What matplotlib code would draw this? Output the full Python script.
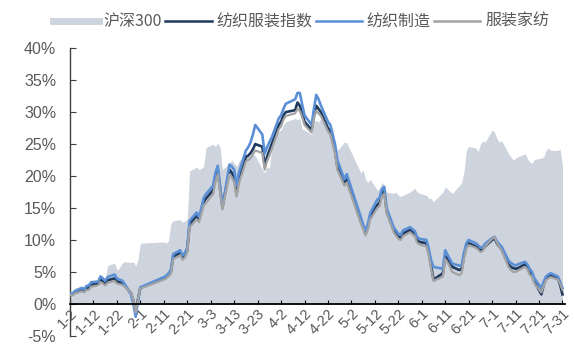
import matplotlib
matplotlib.use("Agg")
import matplotlib.pyplot as plt
from matplotlib.lines import Line2D
import pandas as pd

plt.rcParams['font.family'] = ['Noto Sans CJK SC', 'DejaVu Sans']

# trading days (2019)
days = ["01-02","01-03","01-04","01-07","01-08","01-09","01-10","01-11","01-14","01-15","01-16","01-17","01-18","01-21","01-22","01-23","01-24","01-25","01-28","01-29","01-30","01-31","02-01",
        "02-11","02-12","02-13","02-14","02-15","02-18","02-19","02-20","02-21","02-22","02-25","02-26","02-27","02-28","03-01",
        "03-04","03-05","03-06","03-07","03-08","03-11","03-12","03-13","03-14","03-15","03-18","03-19","03-20","03-21","03-22","03-25","03-26","03-27","03-28","03-29",
        "04-01","04-02","04-03","04-04","04-08","04-09","04-10","04-11","04-12","04-15","04-16","04-17","04-18","04-19","04-22","04-23","04-24","04-25","04-26","04-29","04-30",
        "05-06","05-07","05-08","05-09","05-10","05-13","05-14","05-15","05-16","05-17","05-20","05-21","05-22","05-23","05-24","05-27","05-28","05-29","05-30","05-31",
        "06-03","06-04","06-05","06-06","06-10","06-11","06-12","06-13","06-14","06-17","06-18","06-19","06-20","06-21","06-24","06-25","06-26","06-27","06-28",
        "07-01","07-02","07-03","07-04","07-05","07-08","07-09","07-10","07-11","07-12","07-15","07-16","07-17","07-18","07-19","07-22","07-23","07-24","07-25","07-26","07-29","07-30","07-31"]

# 沪深300 (%)
hs300 = [1.2,1.0,2.5,2.8,2.7,3.0,2.7,3.2,2.6,4.0,4.2,3.7,6.0,6.4,5.3,5.6,6.2,6.6,6.5,6.6,5.9,7.0,9.5,
         9.7,9.5,9.9,12.6,13.0,13.2,12.8,13.0,13.3,20.8,21.4,21.0,21.2,21.5,24.5,
         25.0,24.6,25.2,24.5,21.0,22.0,22.5,22.0,21.5,22.3,23.5,23.2,23.0,23.4,23.2,21.0,20.5,21.5,21.2,24.5,
         27.0,27.2,28.0,28.5,29.0,28.8,29.0,27.3,27.2,26.5,28.5,28.7,28.4,29.0,27.5,27.2,27.5,25.0,24.0,25.3,25.2,
         20.5,21.0,19.5,19.0,19.5,17.8,18.0,19.0,18.6,17.5,17.3,17.5,17.0,16.8,17.0,17.5,17.8,18.1,17.5,17.3,
         17.0,16.5,16.5,16.0,17.5,18.3,18.0,17.6,17.3,18.5,19.0,20.7,24.0,24.6,24.4,23.8,25.0,25.5,25.3,
         27.2,26.9,25.9,25.3,25.5,23.5,23.0,22.5,22.8,23.0,23.5,22.8,22.2,22.0,22.6,22.8,23.0,24.0,24.4,24.0,24.0,24.2,21.5]

# 纺织服装指数 (%)
fzfz = [1.5,1.4,1.8,2.2,2.0,2.4,2.5,3.0,3.2,3.8,3.6,3.2,3.7,4.0,3.5,3.4,3.3,3.0,1.7,0.5,-1.0,0.8,2.5,
        4.0,4.2,4.6,5.0,7.4,8.0,7.2,7.6,8.4,12.5,13.8,13.2,14.5,16.0,16.5,
        17.8,19.8,21.0,18.0,15.2,21.0,20.5,19.8,17.3,19.5,23.0,23.2,23.6,24.2,25.0,24.6,21.5,23.0,24.0,25.0,
        28.0,28.5,29.5,30.0,30.3,31.5,31.0,29.8,28.5,27.2,29.5,31.0,30.5,30.0,27.5,27.0,25.5,24.0,21.5,18.9,19.5,
        13.0,12.0,11.0,12.0,13.6,15.5,15.8,17.5,17.8,14.5,11.6,11.0,10.5,10.3,11.0,11.6,11.3,11.0,10.0,9.7,
        9.5,8.0,6.0,3.8,4.8,7.5,7.0,6.4,5.8,5.3,5.5,7.5,9.0,9.5,9.0,8.8,8.4,8.5,9.0,
        10.0,10.3,9.5,9.0,8.6,6.2,5.8,5.6,5.5,5.6,6.2,5.8,5.0,4.6,3.5,1.5,3.0,4.0,4.3,4.5,4.0,3.0,1.5]

# 纺织制造 (%)
fzzz = [1.6,1.6,2.0,2.5,2.3,2.8,2.9,3.4,3.5,4.3,4.0,3.6,4.2,4.6,4.0,3.8,3.7,3.3,1.5,0.0,-2.0,0.5,2.6,
        4.2,4.4,4.8,5.3,7.8,8.4,7.6,8.0,8.8,13.0,14.3,13.6,15.0,16.6,17.2,
        18.5,20.5,21.6,18.5,15.0,21.8,21.5,21.0,18.5,20.5,24.0,24.5,25.3,26.5,28.0,26.5,23.5,24.5,25.3,26.0,
        29.0,29.5,30.5,31.3,32.0,33.0,33.0,31.2,29.5,28.0,30.5,32.7,32.0,31.0,28.5,28.0,26.5,25.0,22.5,19.5,20.3,
        13.6,12.4,11.5,12.5,14.2,16.3,16.6,18.0,18.3,15.0,12.0,11.5,11.0,10.8,11.5,12.0,11.7,11.4,10.5,10.2,
        10.0,8.6,6.8,5.8,5.5,8.4,7.7,7.0,6.3,6.0,6.0,8.0,9.5,10.0,9.5,9.2,8.8,8.9,9.4,
        10.3,10.5,9.8,9.4,9.0,6.8,6.4,6.2,6.0,6.2,6.6,6.2,5.5,5.0,4.0,2.5,3.5,4.3,4.6,4.8,4.3,3.5,2.5]

# 服装家纺 (%)
fzjf = [1.4,1.3,1.6,2.0,1.8,2.2,2.2,2.7,2.9,3.4,3.2,2.9,3.3,3.6,3.2,3.1,3.0,2.8,1.8,0.7,-1.3,0.9,2.4,
        3.8,4.0,4.3,4.7,7.0,7.6,6.9,7.3,8.0,12.0,13.2,12.8,14.0,15.4,15.8,
        17.2,19.0,20.3,17.4,14.8,20.2,19.8,19.0,16.8,18.8,22.3,22.5,22.8,23.4,24.0,23.6,21.0,22.3,23.2,24.2,
        27.3,27.8,28.8,29.4,29.8,30.5,30.2,29.2,28.0,26.8,29.0,30.2,29.8,29.4,27.0,26.5,25.0,23.5,21.0,18.5,19.0,
        12.6,11.7,10.7,11.6,13.2,15.0,15.3,16.8,17.2,14.2,11.2,10.7,10.2,10.0,10.6,11.2,10.9,10.6,9.6,9.3,
        9.0,7.5,5.5,3.6,4.3,7.0,6.5,5.8,5.0,4.5,4.8,7.0,8.6,9.2,8.8,8.5,8.1,8.3,9.0,
        10.2,10.5,9.6,9.0,8.4,5.8,5.3,5.0,5.0,5.2,5.8,5.4,4.6,4.2,3.2,1.8,2.8,3.7,4.0,4.2,3.8,3.2,2.2]

tick_days = ["01-02","01-12","01-22","02-01","02-11","02-21","03-03","03-13","03-23","04-02","04-12",
             "04-22","05-02","05-12","05-22","06-01","06-11","06-21","07-01","07-11","07-21","07-31"]
tick_labels = ["1-2","1-12","1-22","2-1","2-11","2-21","3-3","3-13","3-23","4-2","4-12",
               "4-22","5-2","5-12","5-22","6-1","6-11","6-21","7-1","7-11","7-21","7-31"]

x = pd.to_datetime(["2019-" + d for d in days])
xt = pd.to_datetime(["2019-" + d for d in tick_days])

c_area = '#CED4DD'
c_dark = '#1F3A5F'
c_blue = '#5B8FD6'
c_gray = '#A3A3A3'
c_text = '#595959'

fig = plt.figure(figsize=(5.74, 3.54), dpi=100)
ax = fig.add_axes([0.122, 0.051, 0.862, 0.813])

ax.fill_between(x, 0, hs300, color=c_area, lw=0, zorder=1)
ax.plot(x, fzfz, color=c_dark, lw=1.9, zorder=3)
ax.plot(x, fzzz, color=c_blue, lw=1.9, zorder=4)
ax.plot(x, fzjf, color=c_gray, lw=1.6, zorder=5)

for s in ['top', 'right']:
    ax.spines[s].set_visible(False)
ax.spines['bottom'].set_position(('data', 0))
ax.spines['bottom'].set_color('#000000')
ax.spines['bottom'].set_linewidth(1.3)
ax.spines['bottom'].set_zorder(6)
ax.spines['left'].set_color('#404040')
ax.spines['left'].set_linewidth(1.0)
ax.tick_params(axis='y', direction='in', length=4, color='#404040', pad=10)
ax.tick_params(axis='x', direction='in', length=3, color='#000000', pad=2)

ax.set_ylim(-5, 40)
ax.set_yticks(range(-5, 41, 5))
ax.set_yticklabels([f"{v}%" for v in range(-5, 41, 5)], fontsize=11.5, color=c_text,
                   family=['Liberation Sans', 'DejaVu Sans'])
ax.set_xlim(xt[0], pd.Timestamp("2019-08-01"))
ax.set_xticks(xt)
ax.set_xticklabels(tick_labels, fontsize=10.5, color=c_text,
                   family=['Liberation Sans', 'DejaVu Sans'])
for t in ax.get_xticklabels():
    t.set_rotation(45)
    t.set_rotation_mode('anchor')
    t.set_ha('right')
    t.set_va('top')

handles = [Line2D([], [], color=c_area, lw=5),
           Line2D([], [], color=c_dark, lw=1.8),
           Line2D([], [], color=c_blue, lw=1.8),
           Line2D([], [], color=c_gray, lw=1.8)]
labels = ["沪深300", "纺织服装指数", "纺织制造", "服装家纺"]
leg = fig.legend(handles, labels, loc='upper left', bbox_to_anchor=(0.075, 0.99), ncol=4,
                 frameon=False, fontsize=11.5, handlelength=2.9, handletextpad=0.3,
                 columnspacing=0.2, borderaxespad=0.2)
for t in leg.get_texts():
    t.set_color(c_text)

fig.savefig("out.png", dpi=100)
